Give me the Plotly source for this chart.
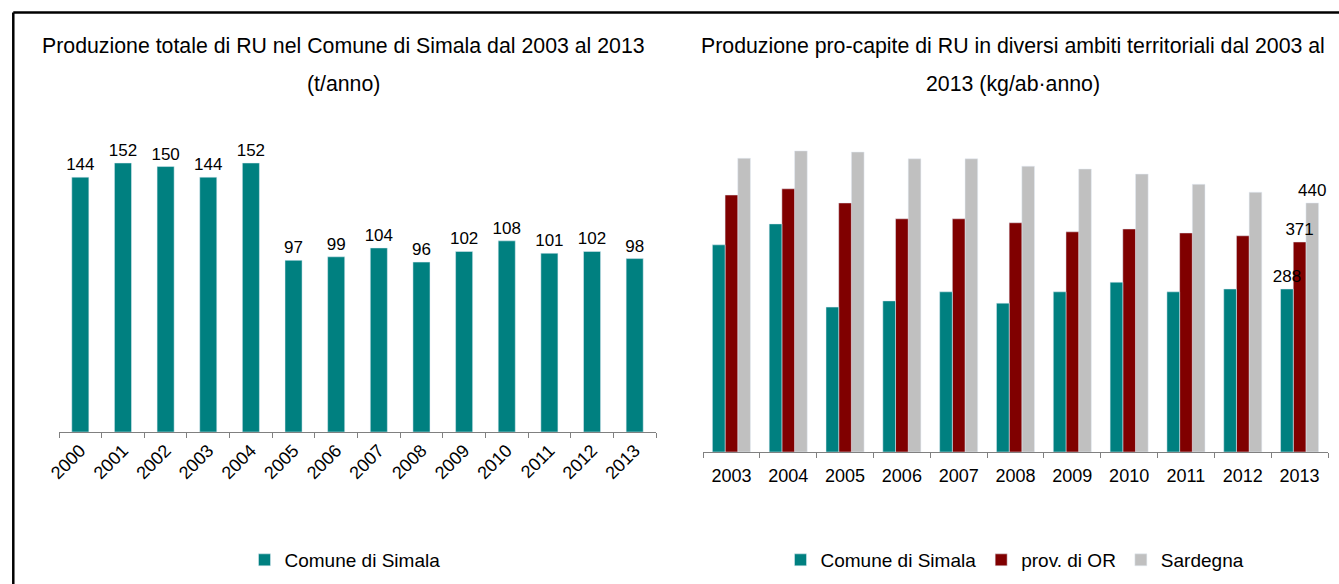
import plotly.graph_objects as go

# ---- data ----
years_tot = ["2000", "2001", "2002", "2003", "2004", "2005", "2006",
             "2007", "2008", "2009", "2010", "2011", "2012", "2013"]
tot_simala = [144, 152, 150, 144, 152, 97, 99, 104, 96, 102, 108, 101, 102, 98]

years_pc = ["2003", "2004", "2005", "2006", "2007", "2008", "2009",
            "2010", "2011", "2012", "2013"]
pc_simala = [366, 403, 256, 267, 283, 263, 283, 300, 283, 288, 288]
pc_prov_or = [454, 465, 440, 412, 412, 405, 389, 394, 387, 382, 371]
pc_sardegna = [519, 532, 530, 518, 518, 505, 500, 491, 473, 459, 440]

series_names = ["Comune di Simala", "prov. di OR", "Sardegna"]
colors = ["#008080", "#800000", "#C0C0C0"]

title_left = ["Produzione totale di RU nel Comune di Simala dal 2003 al 2013", "(t/anno)"]
title_right = ["Produzione pro-capite di RU in diversi ambiti territoriali dal 2003 al",
               "2013 (kg/ab\u00b7anno)"]

W, H = 1339, 584
FONT = "Liberation Sans, Arial, sans-serif"

# the page shows the figure in the horizontal span [12, 1339]
X0, XW = 12.0, 1327.0


def px(x):
    return (x - X0) / XW


def py(y):
    return 1 - y / H


def last_only(vals):
    return [str(v) if i == len(vals) - 1 else "" for i, v in enumerate(vals)]


fig = go.Figure()

fig.add_trace(go.Bar(
    x=years_tot, y=tot_simala, name=series_names[0],
    marker_color=colors[0], width=0.4,
    text=[str(v) for v in tot_simala], textposition="outside",
    textfont=dict(size=17, color="#000000", family=FONT),
    constraintext="none", cliponaxis=False,
    xaxis="x", yaxis="y", legend="legend",
))

# grouped bars with explicit offsets; drawn back to front so the labels stay on top
bw = 0.2233
offsets = [-1.5 * bw, -0.5 * bw, 0.5 * bw]
series_vals = [pc_simala, pc_prov_or, pc_sardegna]
for i in [2, 1, 0]:
    fig.add_trace(go.Bar(
        x=years_pc, y=series_vals[i], name=series_names[i], marker_color=colors[i],
        width=bw, offset=offsets[i],
        text=last_only(series_vals[i]), textposition="outside",
        textfont=dict(size=17, color="#000000", family=FONT),
        constraintext="none", cliponaxis=False,
        xaxis="x2", yaxis="y2", legend="legend2",
    ))

axis_common = dict(
    type="category", showline=True, linecolor="#808080", linewidth=1,
    ticks="outside", tickson="boundaries", ticklen=5, tickcolor="#808080",
    showgrid=False, zeroline=False,
    tickfont=dict(size=18, color="#000000", family=FONT),
)

fig.update_layout(
    width=W, height=H,
    margin=dict(l=0, r=0, t=0, b=0),
    paper_bgcolor="white", plot_bgcolor="white",
    barmode="group", bargap=0.33, bargroupgap=0,
    font=dict(family=FONT, color="#000000"),
    xaxis=dict(domain=[px(59), px(656)], anchor="y", tickangle=-45, **axis_common),
    yaxis=dict(domain=[py(432), py(130)], anchor="x", range=[0, 170.65],
               showticklabels=False, showgrid=False, zeroline=False, showline=False),
    xaxis2=dict(domain=[px(703), px(1328)], anchor="y2", tickangle=0,
                ticklabelstandoff=7, **axis_common),
    yaxis2=dict(domain=[py(452), py(130)], anchor="x2", range=[0, 568.9],
                showticklabels=False, showgrid=False, zeroline=False, showline=False),
    legend=dict(orientation="h", x=px(345), y=py(560), xanchor="center",
                yanchor="middle", font=dict(size=19, family=FONT, color="#000000"),
                bgcolor="rgba(0,0,0,0)"),
    legend2=dict(orientation="h", x=px(1015), y=py(560), xanchor="center",
                 yanchor="middle", traceorder="reversed",
                 font=dict(size=19, family=FONT, color="#000000"),
                 bgcolor="rgba(0,0,0,0)"),
    showlegend=True,
)

# titles
for txt, xc, yc in [(title_left[0], 344, 46), (title_left[1], 344, 84),
                    (title_right[0], 1013, 46), (title_right[1], 1013, 84)]:
    fig.add_annotation(text=txt, x=px(xc), y=py(yc), xref="paper", yref="paper",
                       showarrow=False, xanchor="center", yanchor="middle",
                       font=dict(size=21.3, family=FONT, color="#000000"))

# outer frame (top and left edges visible in the reference)
fig.add_shape(type="line", xref="paper", yref="paper", x0=1.3 / W, x1=1, y0=py(12.5),
              y1=py(12.5), line=dict(color="#000000", width=2.5))
fig.add_shape(type="line", xref="paper", yref="paper", x0=1.3 / W, x1=1.3 / W, y0=0,
              y1=py(12.5), line=dict(color="#000000", width=2.5))

fig.write_html(
    "out.html",
    config={"displayModeBar": False},
    post_script="document.body.style.margin='0';document.body.style.overflow='hidden';",
)
